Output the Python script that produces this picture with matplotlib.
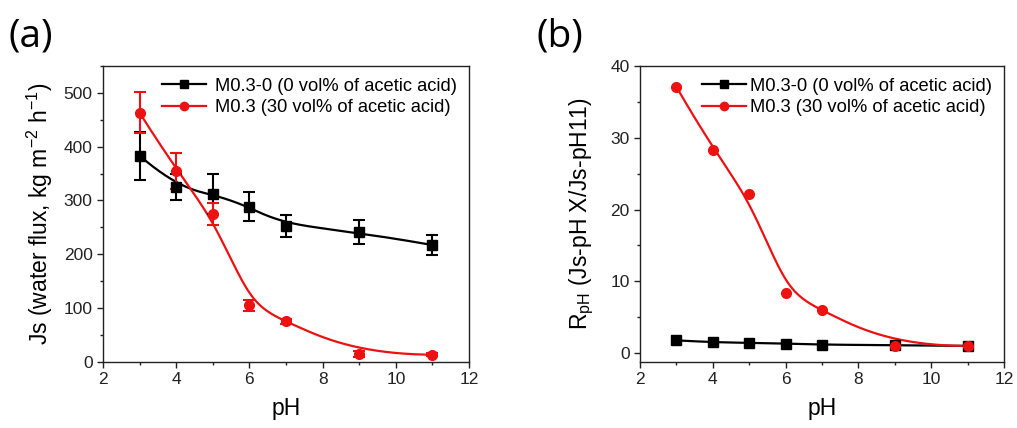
import numpy as np
import matplotlib
matplotlib.use("Agg")
import matplotlib.pyplot as plt
from matplotlib.ticker import MultipleLocator

plt.rcParams['font.family'] = ['Liberation Sans', 'DejaVu Sans']

# ---- data ----
ph = [3, 4, 5, 6, 7, 9, 11]
js_m0 = [383, 325, 312, 288, 252, 241, 217]
js_m0_err = [45, 25, 37, 27, 20, 22, 18]
js_m03 = [463, 355, 275, 105, 75, 14, 13]
js_m03_err = [38, 33, 20, 10, 5, 5, 3]
r_m0 = [1.77, 1.5, 1.44, 1.33, 1.16, 1.1, 1.0]
r_m03 = [37.1, 28.3, 22.2, 8.4, 6.0, 1.0, 1.0]

label_m0 = "M0.3-0 (0 vol% of acetic acid)"
label_m03 = "M0.3 (30 vol% of acetic acid)"
x_ticks = [2, 4, 6, 8, 10, 12]


def bspline(xs, ys, n=300, k=3):
    """Clamped cubic B-spline using data points as control points."""
    P = np.column_stack([xs, ys]).astype(float)
    m = len(P)
    inner = np.arange(1, m - k)
    t = np.concatenate([np.zeros(k + 1), inner, np.full(k + 1, m - k)]).astype(float)
    u = np.linspace(0, m - k, n)
    u[-1] -= 1e-9
    N = np.zeros((n, len(t) - 1))
    for i in range(len(t) - 1):
        N[:, i] = ((u >= t[i]) & (u < t[i + 1])).astype(float)
    for d in range(1, k + 1):
        Nn = np.zeros((n, len(t) - 1 - d))
        for i in range(len(t) - 1 - d):
            a = 0.0
            if t[i + d] - t[i] > 0:
                a = (u - t[i]) / (t[i + d] - t[i]) * N[:, i]
            b = 0.0
            if t[i + d + 1] - t[i + 1] > 0:
                b = (t[i + d + 1] - u) / (t[i + d + 1] - t[i + 1]) * N[:, i + 1]
            Nn[:, i] = a + b
        N = Nn
    C = N @ P
    return C[:, 0], C[:, 1]


fig = plt.figure(figsize=(10.17, 4.28), dpi=100)
ax1 = fig.add_axes([0.1013, 0.1549, 0.3599, 0.6909])
ax2 = fig.add_axes([0.6293, 0.1549, 0.3579, 0.6909])

BLACK = '#000000'
RED = '#ee1111'


def style(ax):
    for s in ax.spines.values():
        s.set_linewidth(1.0)
        s.set_color('#222222')
    ax.tick_params(which='both', direction='out', top=False, right=False,
                   labelsize=12.5, colors='#222222', width=1.0)
    ax.tick_params(which='major', length=4.5, pad=3)
    ax.tick_params(which='minor', length=2.5)
    ax.set_xlim(2, 12)
    ax.set_xticks(x_ticks)
    ax.xaxis.set_minor_locator(MultipleLocator(1))
    ax.set_xlabel('pH', fontsize=16.5, labelpad=7)


# ---- panel (a) ----
bx, by = bspline(ph, js_m0)
ax1.plot(bx, by, color=BLACK, lw=1.6, zorder=3)
ax1.errorbar(ph, js_m0, yerr=js_m0_err, fmt='s', color=BLACK, ms=7,
             capsize=4, elinewidth=1.5, capthick=1.5, zorder=4)
rx, ry = bspline(ph, js_m03)
ax1.plot(rx, ry, color=RED, lw=1.6, zorder=3)
ax1.errorbar(ph, js_m03, yerr=js_m03_err, fmt='o', color=RED, ms=7,
             capsize=4, elinewidth=1.5, capthick=1.5, zorder=4)
ax1.plot([], [], color=BLACK, marker='s', ms=6, lw=1.6, label=label_m0)
ax1.plot([], [], color=RED, marker='o', ms=6, lw=1.6, label=label_m03)
style(ax1)
ax1.set_ylim(0, 550)
ax1.yaxis.set_major_locator(MultipleLocator(100))
ax1.yaxis.set_minor_locator(MultipleLocator(50))
ax1.set_ylabel('Js (water flux, kg m$^{\\mathregular{-2}}$ h$^{\\mathregular{-1}}$)',
               fontsize=16.5, labelpad=6)
ax1.legend(loc='upper right', frameon=False, fontsize=13.2, handlelength=2.4,
           handletextpad=0.5, borderaxespad=0.25, labelspacing=0.25)

# ---- panel (b) ----
bx, by = bspline(ph, r_m0)
ax2.plot(bx, by, color=BLACK, lw=1.6, zorder=3)
ax2.plot(ph, r_m0, 's', color=BLACK, ms=7, zorder=4)
rx, ry = bspline(ph, r_m03)
ax2.plot(rx, ry, color=RED, lw=1.6, zorder=3)
ax2.plot(ph, r_m03, 'o', color=RED, ms=7, zorder=4)
ax2.plot([], [], color=BLACK, marker='s', ms=6, lw=1.6, label=label_m0)
ax2.plot([], [], color=RED, marker='o', ms=6, lw=1.6, label=label_m03)
style(ax2)
ax2.set_ylim(-1.2, 40)
ax2.yaxis.set_major_locator(MultipleLocator(10))
ax2.yaxis.set_minor_locator(MultipleLocator(5))
ax2.set_ylabel('R$_{\\mathregular{pH}}$ (Js-pH X/Js-pH11)', fontsize=16.5, labelpad=10)
ax2.legend(loc='upper right', frameon=False, fontsize=13.2, handlelength=2.4,
           handletextpad=0.2, borderaxespad=0.25, labelspacing=0.25)

fig.text(0.008, 0.915, '(a)', fontsize=28, family=['Open Sans', 'DejaVu Sans'], va='center')
fig.text(0.528, 0.915, '(b)', fontsize=28, family=['Open Sans', 'DejaVu Sans'], va='center')

fig.savefig('out.png', dpi=100)
